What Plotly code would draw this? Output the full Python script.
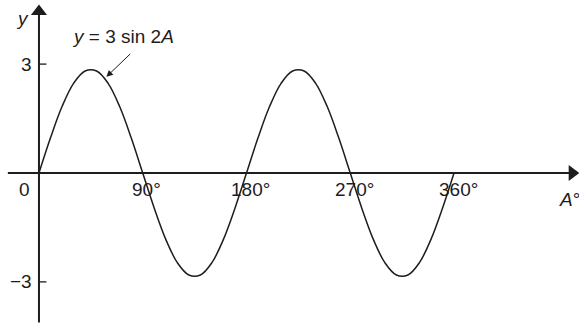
import plotly.graph_objects as go

# curve y = 3 sin 2A, values every 10 degrees
A_deg = [0, 10, 20, 30, 40, 50, 60, 70, 80, 90,
         100, 110, 120, 130, 140, 150, 160, 170, 180,
         190, 200, 210, 220, 230, 240, 250, 260, 270,
         280, 290, 300, 310, 320, 330, 340, 350, 360]
y_vals = [0, 0.97, 1.83, 2.47, 2.81, 2.81, 2.47, 1.83, 0.97, 0,
          -0.97, -1.83, -2.47, -2.81, -2.81, -2.47, -1.83, -0.97, 0,
          0.97, 1.83, 2.47, 2.81, 2.81, 2.47, 1.83, 0.97, 0,
          -0.97, -1.83, -2.47, -2.81, -2.81, -2.47, -1.83, -0.97, 0]

x_ticks = [90, 180, 270, 360]
x_tick_labels = ["90°", "180°", "270°", "360°"]
y_ticks = [3, -3]
y_tick_labels = ["3", "−3"]

INK = "#1e1c1d"
FONT = "Liberation Sans, Arial, sans-serif"
FS = 19

X_RANGE = [-33.8, 468.4]
Y_RANGE = [-4.16, 4.766]

fig = go.Figure()

# axes drawn as lines with arrowheads
fig.add_trace(go.Scatter(x=[-27, 460], y=[0, 0], mode="lines",
                         line=dict(color=INK, width=2), hoverinfo="skip"))
fig.add_trace(go.Scatter(x=[0, 0], y=[-4.12, 4.4], mode="lines",
                         line=dict(color=INK, width=2), hoverinfo="skip"))
fig.add_trace(go.Scatter(x=[462.5], y=[0], mode="markers",
                         marker=dict(symbol="triangle-right", size=14, color=INK),
                         hoverinfo="skip"))
fig.add_trace(go.Scatter(x=[0], y=[4.45], mode="markers",
                         marker=dict(symbol="triangle-up", size=14, color=INK),
                         hoverinfo="skip"))

# small tick marks on the y axis
for yt in y_ticks:
    fig.add_trace(go.Scatter(x=[0, 6.5], y=[yt, yt], mode="lines",
                             line=dict(color=INK, width=1.3), hoverinfo="skip"))

# the curve
fig.add_trace(go.Scatter(x=A_deg, y=y_vals, mode="lines",
                         line=dict(color=INK, width=1.5, shape="spline", smoothing=1.0),
                         hoverinfo="skip"))

ann = []
ann.append(dict(x=0, y=0, text="0", showarrow=False, xanchor="right",
                yanchor="top", xshift=-7, yshift=-4))
for xv, lab in zip(x_ticks, x_tick_labels):
    ann.append(dict(x=xv, y=0, text=lab, showarrow=False, xanchor="center",
                    yanchor="top", xshift=4, yshift=-4))
for yv, lab in zip(y_ticks, y_tick_labels):
    ann.append(dict(x=0, y=yv, text=lab, showarrow=False, xanchor="right",
                    yanchor="middle", xshift=-5))
ann.append(dict(x=0, y=4.27, text="<i>y</i>", showarrow=False, xanchor="right",
                yanchor="middle", xshift=-8))
ann.append(dict(x=1, y=0, xref="paper", text="<i>A</i>°", showarrow=False,
                xanchor="right", yanchor="top", yshift=-14, xshift=3))
# curve label with pointer
ann.append(dict(x=73.3, y=3.75, text="<i>y</i> = 3 sin 2<i>A</i>", showarrow=False,
                xanchor="center", yanchor="middle"))
ann.append(dict(x=58.5, y=2.65, ax=80.5, ay=3.32, xref="x", yref="y", axref="x", ayref="y",
                text="", showarrow=True, arrowhead=2, arrowsize=1.3, arrowwidth=1,
                arrowcolor=INK))
for a in ann:
    a.setdefault("font", dict(family=FONT, size=FS, color=INK))

fig.update_layout(
    width=579, height=324,
    margin=dict(l=0, r=0, t=0, b=0),
    paper_bgcolor="white", plot_bgcolor="white",
    showlegend=False,
    annotations=ann,
    xaxis=dict(range=X_RANGE, visible=False, fixedrange=True),
    yaxis=dict(range=Y_RANGE, visible=False, fixedrange=True),
    font=dict(family=FONT, size=FS, color=INK),
)

# the page body has a default 8px margin; remove it so the figure sits at 0,0
fig.write_html("out.html", config={"displayModeBar": False},
               post_script="document.body.style.margin='0';")
